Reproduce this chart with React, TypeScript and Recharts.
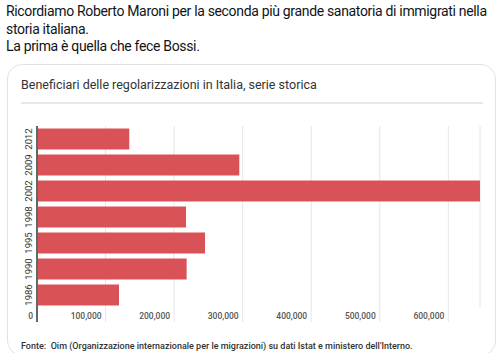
import { BarChart, Bar, XAxis, YAxis, CartesianGrid } from "recharts";

// Regularisations in Italy, beneficiaries per amnesty year (top to bottom)
const YEARS = ["2012", "2009", "2002", "1998", "1995", "1990", "1986"];
const BENEFICIARIES = [134600, 295100, 646200, 217400, 245100, 218300, 119600];
const X_TICKS = [0, 100000, 200000, 300000, 400000, 500000, 600000];

const data = YEARS.map((year, i) => ({ year, value: BENEFICIARIES[i] }));

const BAR = "#d95257";
const GRID = "#e6e6e6";
const AXIS = "#666";
const FONT = "Roboto, 'Noto Sans', sans-serif";

const fmt = (v: number) => v.toLocaleString("en-US");

// value labels sit right-aligned against their gridline, which runs on below the bars
const XTick = (props: any) => {
  const { x, y, payload } = props;
  const isZero = payload.value === 0;
  return (
    <g>
      <line
        x1={x}
        x2={x}
        y1={y}
        y2={y + 14}
        stroke={isZero ? AXIS : GRID}
        strokeWidth={isZero ? 2 : 1}
      />
      <text
        x={x - 4}
        y={y + 8}
        dy="0.35em"
        textAnchor="end"
        fill="#555"
        fontSize={8.5}
        fontWeight={500}
        fontFamily={FONT}
      >
        {fmt(payload.value)}
      </text>
    </g>
  );
};

const YTick = (props: any) => {
  const { y, payload } = props;
  const x = 28;
  return (
    <text
      x={x}
      y={y}
      transform={`rotate(-90, ${x}, ${y})`}
      textAnchor="middle"
      dominantBaseline="central"
      fill="#333"
      fontSize={9.5}
      fontFamily={FONT}
    >
      {payload.value}
    </text>
  );
};

export default function App() {
  return (
    <div
      style={{
        position: "absolute",
        left: 0,
        top: 0,
        width: 500,
        height: 353,
        overflow: "hidden",
        background: "#fff",
        fontFamily: FONT,
      }}
    >
      <div
        style={{
          position: "absolute",
          left: 6,
          top: 3,
          fontSize: 14,
          letterSpacing: -0.33,
          lineHeight: "17.5px",
          color: "#0f1419",
          whiteSpace: "nowrap",
          fontFamily: FONT,
        }}
      >
        Ricordiamo Roberto Maroni per la seconda più grande sanatoria di immigrati nella
        <br />
        storia italiana.
        <br />
        La prima è quella che fece Bossi.
      </div>

      <div
        style={{
          position: "absolute",
          left: 7,
          top: 64,
          width: 487,
          height: 290,
          border: "1px solid #dfe3e6",
          borderRadius: 15,
        }}
      />

      <div
        style={{
          position: "absolute",
          left: 21,
          top: 77,
          fontSize: 12.5,
          color: "#333",
          whiteSpace: "nowrap",
        }}
      >
        Beneficiari delle regolarizzazioni in Italia, serie storica
      </div>
      <div
        style={{
          position: "absolute",
          left: 21,
          top: 102,
          width: 462,
          height: 2,
          background: "#e8e8e8",
        }}
      />

      <div style={{ position: "absolute", left: 0, top: 0 }}>
        <BarChart
          width={500}
          height={353}
          data={data}
          layout="vertical"
          margin={{ top: 126, right: 20, bottom: 25, left: 0 }}
          barCategoryGap="10%"
        >
          <CartesianGrid horizontal={false} stroke={GRID} />
          <XAxis
            type="number"
            domain={[0, "dataMax"]}
            ticks={X_TICKS}
            axisLine={false}
            tickLine={false}
            tickSize={0}
            tickMargin={0}
            height={20}
            interval={0}
            tick={<XTick />}
          />
          <YAxis
            type="category"
            dataKey="year"
            width={37}
            axisLine={{ stroke: AXIS, strokeWidth: 2 }}
            tickLine={false}
            tick={<YTick />}
          />
          <Bar dataKey="value" fill={BAR} isAnimationActive={false} />
        </BarChart>
      </div>

      <div
        style={{
          position: "absolute",
          left: 21,
          top: 341,
          fontSize: 9,
          fontWeight: 500,
          color: "#333",
          whiteSpace: "nowrap",
        }}
      >
        Fonte:&nbsp; Oim (Organizzazione internazionale per le migrazioni) su dati Istat e ministero
        dell'Interno.
      </div>
    </div>
  );
}
